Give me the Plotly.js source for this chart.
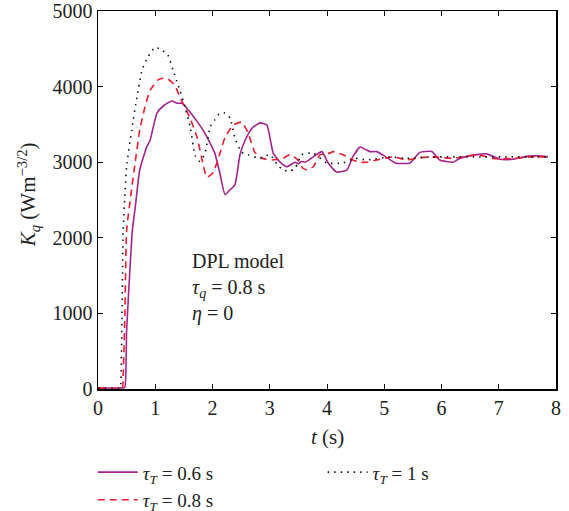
<!DOCTYPE html>
<html>
<head>
<meta charset="utf-8">
<script src="https://cdn.plot.ly/plotly-3.0.1.min.js"></script>
<style>html,body{margin:0;padding:0;background:#fff;}#chart{width:569px;height:511px;}</style>
</head>
<body>
<div id="chart"></div>
<script>
// τT = 0.6 s
const t06 = [0,0.44,0.47,0.5,0.56,0.6,0.65,0.73,0.85,0.91,1.03,1.15,1.29,1.38,1.47,1.61,1.72,1.83,1.94,2.04,2.13,2.22,2.3,2.39,2.44,2.48,2.57,2.69,2.83,2.95,3.06,3.18,3.3,3.44,3.5,3.55,3.62,3.76,3.91,4.02,4.17,4.35,4.45,4.58,4.67,4.75,4.87,5.05,5.19,5.45,5.62,5.83,5.97,6.2,6.32,6.62,6.79,7.02,7.25,7.51,7.77,7.86];
const k06 = [15,15,25,780,1610,2100,2400,2900,3200,3290,3650,3750,3810,3780,3780,3660,3550,3430,3280,3120,2850,2570,2630,2700,2900,3100,3290,3450,3520,3490,3120,3000,2940,3000,2980,3010,3000,3070,3140,2990,2870,2900,3070,3200,3170,3140,3140,3060,2990,2990,3130,3140,3030,3000,3050,3100,3110,3040,3040,3080,3080,3070];
// τT = 0.8 s
const t08 = [0,0.42,0.44,0.47,0.5,0.58,0.65,0.73,0.82,0.91,1.05,1.14,1.22,1.34,1.43,1.52,1.61,1.73,1.83,1.9,2.01,2.13,2.22,2.36,2.51,2.62,2.74,2.88,3.04,3.23,3.35,3.49,3.58,3.65,3.76,3.88,4.05,4.1,4.28,4.45,4.58,4.7,4.87,5.15,5.4,5.62,5.85,6.2,6.62,6.9,7.25,7.55,7.84];
const k08 = [15,15,200,1000,2100,2600,3000,3430,3730,3950,4090,4110,4100,4020,3860,3720,3580,3330,2990,2800,2860,3120,3330,3490,3530,3390,3130,3050,3030,3050,3100,3030,2920,2900,2940,3100,3120,3140,3100,3030,3000,3000,3030,3070,3030,3060,3070,3050,3100,3050,3050,3070,3070];
// τT = 1 s
const t10 = [0,0.39,0.4,0.42,0.44,0.5,0.59,0.68,0.77,0.87,1.0,1.12,1.22,1.31,1.4,1.52,1.61,1.7,1.78,1.87,1.96,2.04,2.13,2.22,2.31,2.39,2.51,2.62,2.83,3.0,3.14,3.23,3.35,3.45,3.56,3.76,4.0,4.28,4.49,4.7,5.1,5.4,5.8,6.2,6.67,7.14,7.6,7.84];
const k10 = [15,15,80,1000,2100,2940,3430,3860,4220,4390,4520,4480,4420,4220,4020,3730,3470,3080,3010,3120,3470,3560,3650,3650,3580,3320,3130,3100,3050,3100,2960,2900,2880,2930,3100,3120,2990,2990,3050,3030,3070,3050,3070,3070,3070,3070,3070,3070];

const names = ['<i>τ<sub>T</sub></i> = 0.6 s', '<i>τ<sub>T</sub></i> = 0.8 s', '<i>τ<sub>T</sub></i> = 1 s'];
const xTicks = [0,1,2,3,4,5,6,7,8];
const yTicks = [0,1000,2000,3000,4000,5000];
const xTitle = '<i>t</i> (s)';
const yTitle = '<i>K<sub>q</sub></i> (Wm<sup>−3/2</sup>)';
const noteText = 'DPL model<br><i>τ<sub>q</sub></i> = 0.8 s<br><i>η</i> = 0';

const FONT = 'Liberation Serif, Times New Roman, serif';

const traces = [
  {x: t06, y: k06, mode: 'lines', name: names[0], line: {color: '#a4238f', width: 1.6, shape: 'spline', smoothing: 0.5}, legend: 'legend'},
  {x: t08, y: k08, mode: 'lines', name: names[1], line: {color: '#ee1c2e', width: 1.6, dash: '7px,5px', shape: 'spline', smoothing: 0.5}, legend: 'legend'},
  {x: t10, y: k10, mode: 'lines', name: names[2], line: {color: '#111111', width: 1.6, dash: '1.5px,5px', shape: 'spline', smoothing: 0.5}, legend: 'legend2'}
];

const axisCommon = {
  showline: true, linecolor: '#000', linewidth: 1.5, mirror: 'ticks',
  ticks: 'inside', ticklen: 5, tickwidth: 1, tickcolor: '#000',
  showgrid: false, zeroline: false, automargin: false,
  tickfont: {family: FONT, size: 20, color: '#222'}
};

const layout = {
  width: 569, height: 511,
  margin: {l: 98, r: 13, t: 11, b: 122, autoexpand: false},
  paper_bgcolor: '#fff', plot_bgcolor: '#fff',
  font: {family: FONT, color: '#222'},
  xaxis: Object.assign({}, axisCommon, {
    range: [0, 8], tickvals: xTicks, ticktext: xTicks.map(String)
  }),
  yaxis: Object.assign({}, axisCommon, {
    range: [0, 5000], tickvals: yTicks, ticktext: yTicks.map(String)
  }),
  showlegend: true,
  legend: {x: 0.163, xref: 'container', xanchor: 'left', y: 0.113, yref: 'container', yanchor: 'top', orientation: 'v',
           itemwidth: 40, font: {family: FONT, size: 19, color: '#222'}, bgcolor: 'rgba(0,0,0,0)', tracegroupgap: 0},
  legend2: {x: 0.567, xref: 'container', xanchor: 'left', y: 0.113, yref: 'container', yanchor: 'top', orientation: 'v',
           itemwidth: 40, font: {family: FONT, size: 19, color: '#222'}, bgcolor: 'rgba(0,0,0,0)'},
  annotations: [
    {
      x: 1.6, y: 1870, xref: 'x', yref: 'y', xanchor: 'left', yanchor: 'top', align: 'left',
      showarrow: false, text: noteText,
      font: {family: FONT, size: 20, color: '#222'}
    },
    {
      x: -0.153, y: 0.515, xref: 'paper', yref: 'paper', xanchor: 'center', yanchor: 'middle',
      textangle: -90, showarrow: false, text: yTitle,
      font: {family: FONT, size: 21, color: '#222'}
    },
    {
      x: 0.5, y: -0.127, xref: 'paper', yref: 'paper', xanchor: 'center', yanchor: 'middle',
      showarrow: false, text: xTitle,
      font: {family: FONT, size: 21, color: '#222'}
    }
  ]
};

Plotly.newPlot('chart', traces, layout, {staticPlot: true, displayModeBar: false});
</script>
</body>
</html>
